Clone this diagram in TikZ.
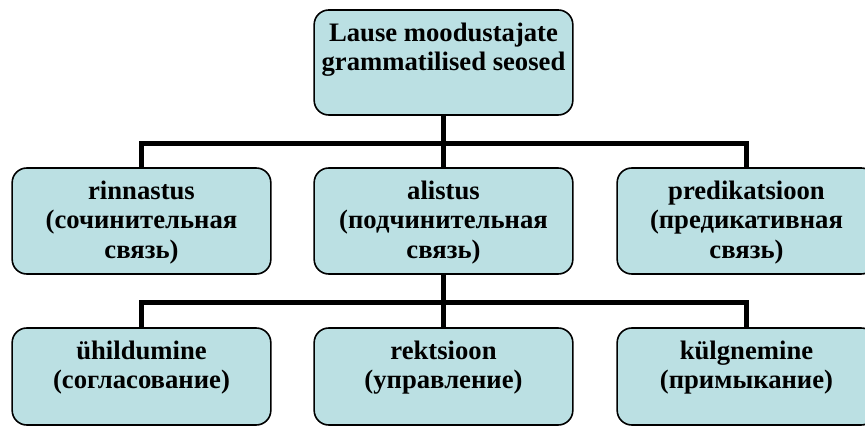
\documentclass[tikz,border=0pt]{standalone}
\usepackage{fontspec}
\setmainfont{Liberation Serif}
\usepackage{tikz}
\usetikzlibrary{positioning,backgrounds}
\definecolor{cBox}{HTML}{BBE0E3}
\tikzset{
  box/.style={rounded corners=11pt,draw=black,line width=1.2pt,fill=cBox,
              minimum width=194pt,inner sep=0pt},
  txt/.style={align=center,inner sep=0pt,
              font=\bfseries\fontsize{20pt}{22.25pt}\selectfont},
  link/.style={line width=3.75pt,black},
}

\begin{document}
\begin{tikzpicture}[x=0.75pt,y=-0.75pt]
  \clip (0,0) rectangle (865,427);
  % boxes, three rows
  \node[box,minimum height=78.75pt] (top) at (443.5,62.5) {};
  \node[box,minimum height=79.5pt] (rin) at (141.5,221) {};
  \node[box,minimum height=79.5pt] (ali) at (443.5,221) {};
  \node[box,minimum height=79.5pt] (pred) at (746.5,221) {};
  \node[box,minimum height=72.75pt] (yhi) at (141.5,376.5) {};
  \node[box,minimum height=72.75pt] (rek) at (443.5,376.5) {};
  \node[box,minimum height=72.75pt] (kyl) at (746.5,376.5) {};
  % texts
  \node[txt,below=10pt of top.north] (topt) {Lause moodustajate\\grammatilised seosed};
  \node[txt,below=10pt of rin.north] (rint) {rinnastus\\(сочинительная\\связь)};
  \node[txt,below=10pt of ali.north] (alit) {alistus\\(подчинительная\\связь)};
  \node[txt,below=10pt of pred.north] (predt) {predikatsioon\\(предикативная\\связь)};
  \node[txt,below=10pt of yhi.north] (yhit) {ühildumine\\(согласование)};
  \node[txt,below=10pt of rek.north] (rekt) {rektsioon\\(управление)};
  \node[txt,below=10pt of kyl.north] (kylt) {külgnemine\\(примыкание)};
  % connectors
  \coordinate (bar1) at (443.5,144);
  \coordinate (bar2) at (443.5,303);
  \begin{scope}[on background layer]
    \draw[link] (top.south) -- (ali.north);
    \draw[link] (rin.north) |- (bar1) -| (pred.north);
    \draw[link] (ali.south) -- (rek.north);
    \draw[link] (yhi.north) |- (bar2) -| (kyl.north);
  \end{scope}
\end{tikzpicture}
\end{document}
